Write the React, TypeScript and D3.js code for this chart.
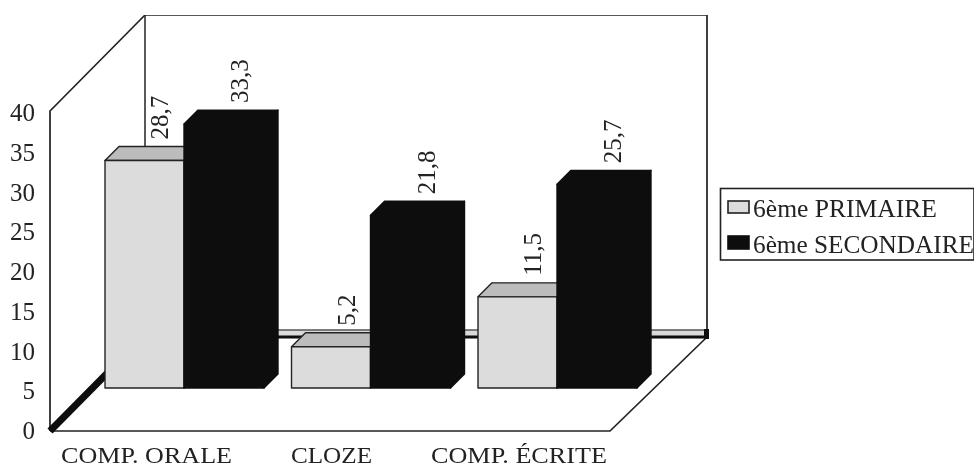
import React from "react";
import * as d3 from "d3";

const categories = ["COMP. ORALE", "CLOZE", "COMP. ÉCRITE"];
const categoryCentres = [146.5, 331.5, 519];
const categoryWidths = [171, 81, 176];
const primaire = [28.7, 5.2, 11.5];
const secondaire = [33.3, 21.8, 25.7];
const ticks = [0, 5, 10, 15, 20, 25, 30, 35, 40];
const seriesNames = ["6ème PRIMAIRE", "6ème SECONDAIRE"];
const legendWidths = [184, 221];

const INK = "#222";
const DARK = "#101010";
const FONT = "'Liberation Serif', 'Times New Roman', serif";
const FS = 25;

// tick-label baselines on the front edge of the box
const yTick = d3.scaleLinear().domain([0, 40]).range([439, 121]);
// bars stand part-way into the depth of the floor
const yBar = d3.scaleLinear().domain([0, 40]).range([388, 71]);
const xGroup = d3.scaleLinear().domain([0, 2]).range([105, 478]);
const LIGHT_W = 79;
const DARK_W = 80;
const D = 14;
const fmt = (v: number) => v.toFixed(1).replace(".", ",");

function Bar({ x, w, v, front, top, stroke }: { x: number; w: number; v: number; front: string; top: string; stroke: string }) {
  const y0 = yBar(0);
  const y1 = yBar(v);
  return (
    <g stroke={stroke} strokeWidth={1.4} strokeLinejoin="round">
      <polygon points={`${x + w},${y0} ${x + w + D},${y0 - D} ${x + w + D},${y1 - D} ${x + w},${y1}`} fill={top} />
      <polygon points={`${x},${y1} ${x + D},${y1 - D} ${x + w + D},${y1 - D} ${x + w},${y1}`} fill={top} />
      <rect x={x} y={y1} width={w} height={y0 - y1} fill={front} />
    </g>
  );
}

function ValueLabel({ x, y, text }: { x: number; y: number; text: string }) {
  return (
    <text transform={`translate(${x},${y}) rotate(-90)`} fontFamily={FONT} fontSize={FS} fill={INK}>
      {text}
    </text>
  );
}

export default function App() {
  return (
    <svg
      width={976}
      height={468}
      viewBox="0 0 976 468"
      style={{ position: "absolute", left: 0, top: 0, background: "#fff" }}
    >
      <defs>
        <filter id="scan" x="0" y="0" width="100%" height="100%">
          <feGaussianBlur stdDeviation="0.45" />
        </filter>
      </defs>
      <g filter="url(#scan)">
        {/* walls */}
        <g fill="none" stroke={INK}>
          <path d="M50,431 L50,111 L145,15 L707,15 L707,334" strokeWidth={1.7} />
          <path d="M145,15 L145,330" strokeWidth={1.5} />
          <path d="M50,431 L610,431 L706,338" strokeWidth={1.7} />
        </g>

        {/* floor edges */}
        <path d="M50,431 L145,335" stroke="#0d0d0d" strokeWidth={7} />
        <rect x={145} y={330} width={562} height={7} fill="#dadada" />
        <path d="M145,330 H707" stroke="#555" strokeWidth={1.6} />
        <path d="M145,337 H707" stroke="#0d0d0d" strokeWidth={3} />
        <rect x={704} y={329} width={5} height={10} fill="#0d0d0d" />

        {/* bars */}
        {categories.map((c, i) => {
          const x = xGroup(i);
          return (
            <g key={c}>
              <Bar x={x} w={LIGHT_W} v={primaire[i]} front="#dcdcdc" top="#bcbcbc" stroke={INK} />
              <Bar x={x + LIGHT_W} w={DARK_W} v={secondaire[i]} front={DARK} top={DARK} stroke={DARK} />
              <ValueLabel x={x + 63} y={yBar(primaire[i]) - D - 7} text={fmt(primaire[i])} />
              <ValueLabel x={x + LIGHT_W + 64} y={yBar(secondaire[i]) - D - 7} text={fmt(secondaire[i])} />
              <text
                x={categoryCentres[i]}
                y={462.8}
                textAnchor="middle"
                fontFamily={FONT}
                fontSize={23}
                fill={INK}
                textLength={categoryWidths[i]}
                lengthAdjust="spacingAndGlyphs"
              >
                {c}
              </text>
            </g>
          );
        })}

        {/* y axis labels */}
        {ticks.map((t) => (
          <text key={t} x={35} y={yTick(t)} textAnchor="end" fontFamily={FONT} fontSize={FS} fill={INK}>
            {t}
          </text>
        ))}

        {/* legend */}
        <rect x={720.5} y={188.5} width={253.5} height={71.5} fill="#fff" stroke={INK} strokeWidth={1.6} />
        <rect x={728} y={201} width={21} height={12} fill="#dcdcdc" stroke={INK} strokeWidth={1.6} />
        <rect x={728} y={236} width={21} height={13} fill={DARK} stroke={DARK} strokeWidth={1.6} />
        {seriesNames.map((s, i) => (
          <text
            key={s}
            x={753}
            y={[217, 253][i]}
            fontFamily={FONT}
            fontSize={FS}
            fill={INK}
            textLength={legendWidths[i]}
            lengthAdjust="spacingAndGlyphs"
          >
            {s}
          </text>
        ))}
      </g>
    </svg>
  );
}
